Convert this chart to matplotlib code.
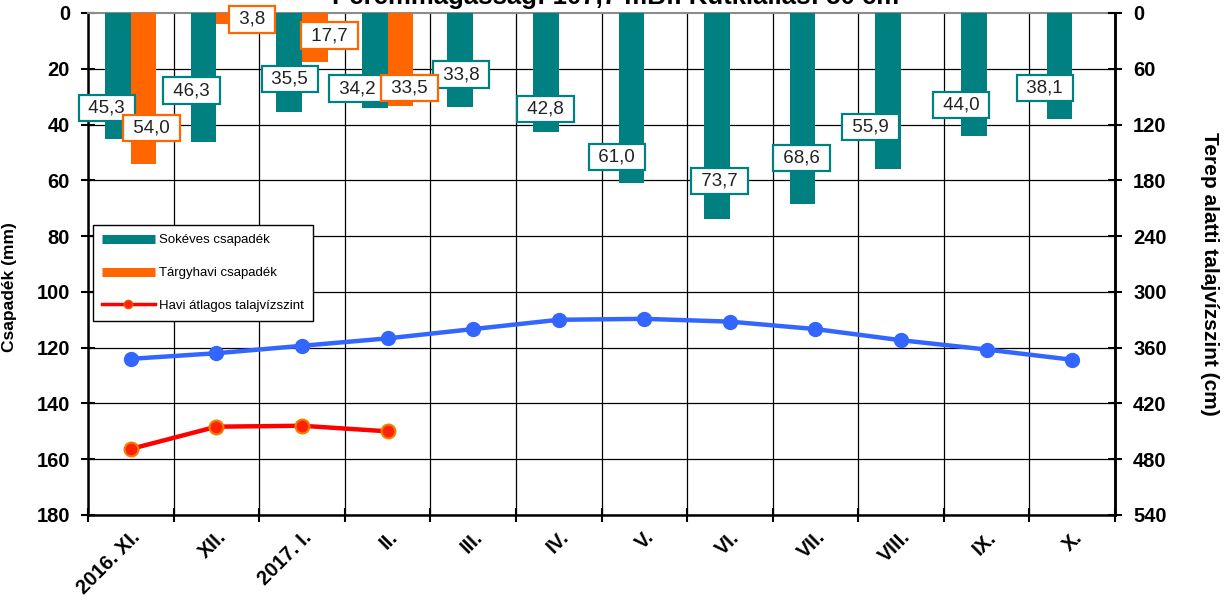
import matplotlib
matplotlib.use('Agg')
import matplotlib.pyplot as plt
from matplotlib.lines import Line2D
import numpy as np

plt.rcParams['font.family'] = ['Liberation Sans', 'DejaVu Sans']

# ---- data -------------------------------------------------------------
months = ['2016. XI.', 'XII.', '2017. I.', 'II.', 'III.', 'IV.', 'V.',
          'VI.', 'VII.', 'VIII.', 'IX.', 'X.']
longterm_precip = [45.3, 46.3, 35.5, 34.2, 33.8, 42.8, 61.0, 73.7, 68.6, 55.9, 44.0, 38.1]
monthly_precip = [54.0, 3.8, 17.7, 33.5]
monthly_gw_cm = [469, 445, 444, 450]
longterm_gw_cm = [372, 366, 358, 350, 340, 330, 329, 332, 340, 352, 362, 373]

title = 'Peremmagasság: 107,7 mBf. Kútkiállás: 50 cm'

# value-label placement (offset in categories, offset in mm from bar end)
teal_lbl_dx = [-0.28, -0.29, -0.14, -0.35, -0.14, -0.15, -0.32, -0.12, -0.16, -0.36, -0.30, -0.32]
teal_lbl_dy = [-11.2, -18.5, -11.8, -7.0, -11.7, -8.4, -9.4, -13.5, -16.6, -15.0, -11.0, -11.2]
orange_lbl_dx = [0.24, 0.42, 0.32, 0.26]
orange_lbl_dy = [-12.8, -1.6, -9.5, -6.6]

TEAL = '#008080'
ORANGE = '#FF6600'
RED = '#FF0000'
BLUE = '#3366FF'

W, H = 1227, 603
fig = plt.figure(figsize=(W / 100, H / 100), dpi=100)
ax1 = fig.add_axes([88 / W, 1 - 515 / H, 1027 / W, 502 / H])
ax2 = ax1.twinx()

x = np.arange(len(months))
bw = 0.3

# precipitation bars (hanging down from 0)
ax1.bar(x - bw / 2, longterm_precip, width=bw, color=TEAL, zorder=3)
xo = np.arange(len(monthly_precip))
ax1.bar(xo + bw / 2, monthly_precip, width=bw, color=ORANGE, zorder=3)


def fmt(v):
    return f' {v:.1f} '.replace('.', ',')


for i, v in enumerate(longterm_precip):
    ax1.text(i + teal_lbl_dx[i], v + teal_lbl_dy[i], fmt(v), ha='center', va='center',
             fontsize=13.5, color='#222222', zorder=6, clip_on=False,
             bbox=dict(boxstyle='square,pad=0.26', fc='white', ec=TEAL, lw=1.6))
for i, v in enumerate(monthly_precip):
    ax1.text(i + orange_lbl_dx[i], v + orange_lbl_dy[i], fmt(v), ha='center', va='center',
             fontsize=13.5, color='#222222', zorder=6, clip_on=False,
             bbox=dict(boxstyle='square,pad=0.26', fc='white', ec=ORANGE, lw=1.6))

# groundwater levels on the secondary axis
ax2.plot(x, longterm_gw_cm, color=BLUE, lw=3.2, marker='o', ms=10,
         mfc=BLUE, mec=BLUE, zorder=4)
ax2.plot(xo, monthly_gw_cm, color=RED, lw=3.2, marker='o', ms=10,
         mfc='#FF2200', mec='#F08000', mew=1.5, zorder=4)

# axes ranges and ticks
ax1.set_xlim(-0.5, len(months) - 0.5)
ax1.set_ylim(180, 0)
ax2.set_ylim(540, 0)
ax1.set_yticks(np.arange(0, 181, 20))
ax2.set_yticks(np.arange(0, 541, 60))

ax1.set_xticks(np.arange(-0.5, len(months), 1))
ax1.set_xticklabels([])
ax1.set_xticks(x, minor=True)
ax1.set_xticklabels(months, minor=True, rotation=45, ha='right', va='top',
                    rotation_mode='anchor', fontweight='bold', fontsize=14.5)
ax1.tick_params(axis='x', which='major', direction='inout', length=10, width=1.5)
ax1.tick_params(axis='x', which='minor', length=0, pad=9)
ax1.tick_params(axis='y', direction='inout', length=10, width=1.5, pad=8, labelsize=14.5)
ax2.tick_params(axis='y', direction='inout', length=10, width=1.5, pad=8, labelsize=14.5)
for lab in ax1.get_yticklabels() + ax2.get_yticklabels():
    lab.set_fontweight('bold')

# grid
ax1.set_axisbelow(True)
ax1.grid(True, which='major', color='black', lw=0.9)
ax1.get_ygridlines()[0].set_visible(False)

for s in ('left', 'bottom', 'right'):
    ax1.spines[s].set_color('black')
    ax1.spines[s].set_linewidth(1.8)
ax1.spines['top'].set_color('#8C8C8C')
ax1.spines['top'].set_linewidth(1.5)
for s in ('left', 'bottom', 'top'):
    ax2.spines[s].set_visible(False)
ax2.spines['right'].set_color('black')
ax2.spines['right'].set_linewidth(1.8)

ax1.set_ylabel('Csapadék (mm)', fontsize=12.5, fontweight='bold')
ax1.yaxis.set_label_coords(-0.069, 0.455)
ax2.set_ylabel('Terep alatti talajvízszint (cm)', fontsize=15, fontweight='bold',
               rotation=270, va='center')
ax2.yaxis.set_label_coords(1.092, 0.48)

# legend
handles = [
    Line2D([], [], color=TEAL, lw=6.5, solid_capstyle='butt'),
    Line2D([], [], color=ORANGE, lw=6.5, solid_capstyle='butt'),
    Line2D([], [], color=RED, lw=2.5, marker='o', ms=6, mfc='#FF2200', mec='#E06000'),
]
leg = ax2.legend(handles, ['Sokéves csapadék', 'Tárgyhavi csapadék', 'Havi átlagos talajvízszint'],
                 loc='upper left', bbox_to_anchor=(92.7 / W, 1 - 225 / H),
                 bbox_transform=fig.transFigure, borderaxespad=0, fontsize=9.5,
                 handlelength=4.0, handletextpad=0.35, labelspacing=1.55,
                 borderpad=0.7, fancybox=False, framealpha=1, edgecolor='black')
leg.get_frame().set_linewidth(1.0)
leg.set_zorder(10)

fig.text(0.502, 1 - 4 / H, title, ha='center', va='baseline',
         fontsize=18.5, fontweight='bold')

fig.savefig('out.png', dpi=100)
